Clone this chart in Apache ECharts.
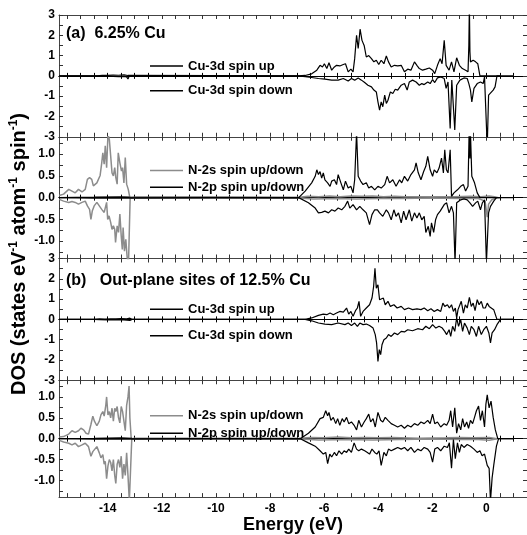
<!DOCTYPE html>
<html>
<head>
<meta charset="utf-8">
<script src="https://cdn.jsdelivr.net/npm/echarts@6/dist/echarts.min.js"></script>
<style>
html, body { margin: 0; padding: 0; background: #fff; }
#dos { width: 527px; height: 535px; }
</style>
</head>
<body>
<div id="dos"></div>
<script>
var chart = echarts.init(document.getElementById('dos'));
var FONT = "'Liberation Sans', Arial, sans-serif";

// energy axis (eV)
var energyLabels = [-14, -12, -10, -8, -6, -4, -2, 0];
var energyTicks = [-15.5, -15, -14.5, -14, -13.5, -13, -12.5, -12, -11.5, -11, -10.5, -10, -9.5, -9, -8.5, -8,
    -7.5, -7, -6.5, -6, -5.5, -5, -4.5, -4, -3.5, -3, -2.5, -2, -1.5, -1, -0.5, 0, 0.5, 1, 1.5];
// DOS axes
var cuLabels = [-3, -2, -1, 0, 1, 2, 3];
var cuTicks = [-3, -2.5, -2, -1.5, -1, -0.5, 0, 0.5, 1, 1.5, 2, 2.5, 3];
var nLabels = [-1.0, -0.5, 0.0, 0.5, 1.0];
var nTicks = [-1.25, -1, -0.75, -0.5, -0.25, 0, 0.25, 0.5, 0.75, 1, 1.25];

// (a) 6.25% Cu : Cu-3d
var cu3dUpA = [[-15.8,0],[-14.4,0],[-14.2,0.03],[-14.0,0.02],[-13.8,0.04],[-13.6,0.03],[-13.4,0.05],[-13.25,0.02],[-13.2,0],[-6.94,0],
    [-6.70,0.02],[-6.46,0.1],[-6.27,0.28],[-6.15,0.52],[-6.06,0.44],[-5.99,0.6],[-5.90,0.36],[-5.82,0.65],[-5.72,0.28],[-5.62,0.44],
    [-5.54,0.52],[-5.42,0.49],[-5.29,0.56],[-5.21,0.6],[-5.11,0.2],[-5.01,0.33],[-4.93,0.2],[-4.87,0.85],[-4.80,2.0],[-4.74,1.35],
    [-4.67,2.3],[-4.60,1.75],[-4.52,1.5],[-4.44,0.93],[-4.35,1.0],[-4.25,0.85],[-4.16,0.69],[-4.07,0.77],[-3.98,0.56],[-3.89,0.77],
    [-3.79,0.6],[-3.70,0.98],[-3.62,0.69],[-3.52,0.44],[-3.40,0.52],[-3.28,0.49],[-3.15,0.52],[-3.03,0.2],[-2.91,0.33],[-2.79,0.28],
    [-2.66,0.69],[-2.57,0.52],[-2.48,0.36],[-2.36,0.28],[-2.24,0.33],[-2.11,0.39],[-1.99,0.28],[-1.91,0.11],[-1.81,0.52],[-1.71,0.85],
    [-1.64,0.6],[-1.56,1.75],[-1.49,0.52],[-1.38,0.28],[-1.29,0.69],[-1.20,0.2],[-1.10,0.89],[-1.00,0.52],[-0.89,0.36],[-0.77,0.28],
    [-0.68,0.2],[-0.65,1.5],[-0.63,3.5],[-0.61,1.2],[-0.59,0.69],[-0.49,0.77],[-0.40,0.69],[-0.32,0.6],[-0.24,0],[0.5,0]];
var cu3dDownA = [[-15.8,0],[-14.4,0],[-14.2,-0.02],[-14.0,-0.03],[-13.8,-0.02],[-13.6,-0.04],[-13.4,-0.03],[-13.3,-0.05],[-13.25,-0.15],[-13.2,0],[-6.94,0],
    [-6.46,-0.08],[-6.21,-0.13],[-5.97,-0.16],[-5.72,-0.21],[-5.48,-0.21],[-5.29,-0.13],[-5.11,-0.25],[-4.99,-0.13],[-4.87,-0.21],
    [-4.74,-0.1],[-4.62,-0.21],[-4.50,-0.33],[-4.38,-0.46],[-4.25,-0.54],[-4.16,-0.70],[-4.07,-0.79],[-4.01,-1.28],[-3.95,-1.69],[-3.89,-1.28],
    [-3.83,-1.52],[-3.76,-0.95],[-3.70,-1.36],[-3.64,-1.2],[-3.55,-0.79],[-3.46,-0.87],[-3.37,-0.66],[-3.28,-0.70],[-3.15,-0.46],[-3.03,-0.38],
    [-2.93,-0.70],[-2.85,-0.3],[-2.73,-0.21],[-2.60,-0.3],[-2.48,-0.46],[-2.39,-0.38],[-2.30,-0.43],[-2.17,-0.3],[-2.08,-0.38],[-1.99,-0.18],
    [-1.91,-0.33],[-1.81,-0.1],[-1.69,-0.05],[-1.56,-0.13],[-1.49,-0.62],[-1.42,-0.3],[-1.34,-2.59],[-1.28,-0.21],[-1.22,-0.3],[-1.17,-2.67],
    [-1.10,-0.46],[-0.98,-0.21],[-0.83,-0.1],[-0.71,-0.13],[-0.65,-0.38],[-0.59,-0.70],[-0.54,-1.28],[-0.46,-0.62],[-0.34,-0.38],[-0.22,-0.3],
    [-0.12,-0.38],[-0.07,-0.05],[-0.02,0],[0.03,-3.5],[0.08,-0.95],[0.15,-0.87],[0.25,-0.70],[0.32,-0.54],[0.39,0],[1.0,0]];

// (a) 6.25% Cu : N-2s / N-2p
var n2sUpA = [[-15.79,0.05],[-15.63,0.08],[-15.44,0.19],[-15.32,0.15],[-15.20,0.11],[-15.08,0.19],[-14.95,0.13],[-14.83,0.19],[-14.75,0.42],
    [-14.67,0.46],[-14.59,0.42],[-14.53,0.27],[-14.40,0.34],[-14.28,0.51],[-14.22,0.8],[-14.18,1.03],[-14.13,0.77],[-14.09,1.19],[-14.04,0.69],
    [-13.99,1.45],[-13.94,1.34],[-13.89,0.96],[-13.84,0.57],[-13.79,0.5],[-13.74,0.69],[-13.70,0.46],[-13.65,0.31],[-13.61,1.03],[-13.55,0.8],
    [-13.49,0.61],[-13.45,0.69],[-13.40,0.34],[-13.35,0.92],[-13.30,0.31],[-13.24,0.19],[-13.18,0],[-13.0,0.01],[-9.0,0.01],[-6.9,0.01],
    [-6.6,0.03],[-6.2,0.02],[-5.8,0.04],[-5.4,0.02],[-5.0,0.04],[-4.6,0.03],[-4.2,0.04],[-3.8,0.02],[-3.4,0.03],[-3.0,0.02],[-2.0,0.02],
    [-1.2,0.02],[-0.6,0.03],[-0.2,0.02],[0.1,0.04],[0.3,0.02],[0.45,0]];
var n2sDownA = [[-15.79,-0.04],[-15.63,-0.08],[-15.44,-0.11],[-15.32,-0.09],[-15.20,-0.11],[-15.08,-0.15],[-14.95,-0.11],[-14.83,-0.08],
    [-14.75,-0.19],[-14.67,-0.27],[-14.62,-0.5],[-14.57,-0.31],[-14.50,-0.19],[-14.40,-0.11],[-14.31,-0.19],[-14.22,-0.27],[-14.13,-0.34],
    [-14.09,-0.38],[-14.04,-0.11],[-14.0,-0.5],[-13.95,-0.42],[-13.89,-0.57],[-13.84,-0.73],[-13.79,-0.65],[-13.74,-0.73],[-13.71,-1.03],
    [-13.65,-0.65],[-13.60,-0.8],[-13.55,-0.38],[-13.50,-0.88],[-13.46,-1.19],[-13.43,-0.69],[-13.38,-1.23],[-13.33,-0.96],[-13.28,-1.38],
    [-13.23,-1.5],[-13.18,-1.5],[-13.17,0],[-13.1,-0.01],[-6.9,-0.01],[-6.4,-0.03],[-5.6,-0.02],[-4.8,-0.03],[-4.0,-0.02],[-3.2,-0.02],
    [-2.0,-0.01],[-1.0,-0.02],[-0.3,-0.02],[-0.05,-0.08],[0.03,-0.45],[0.08,-0.15],[0.2,-0.05],[0.4,0]];
var n2pUpA = [[-15.8,0],[-14.5,0.01],[-13.5,0.02],[-13.2,0.01],[-6.94,0],
    [-6.70,0.15],[-6.46,0.34],[-6.33,0.49],[-6.27,0.64],[-6.21,0.53],[-6.15,0.6],[-6.09,0.45],[-6.03,0.57],[-5.97,0.41],[-5.87,0.34],
    [-5.78,0.26],[-5.72,0.38],[-5.62,0.41],[-5.54,0.3],[-5.48,0.53],[-5.38,0.34],[-5.29,0.18],[-5.21,0.38],[-5.11,0.22],[-5.01,0.26],
    [-4.93,0.11],[-4.87,0.41],[-4.80,1.5],[-4.74,0.49],[-4.65,0.38],[-4.56,0.3],[-4.44,0.34],[-4.35,0.22],[-4.25,0.26],[-4.13,0.18],
    [-4.01,0.26],[-3.89,0.22],[-3.76,0.3],[-3.67,0.49],[-3.58,0.34],[-3.46,0.41],[-3.34,0.26],[-3.21,0.41],[-3.13,0.34],[-3.03,0.49],
    [-2.91,0.38],[-2.79,0.53],[-2.66,0.64],[-2.60,0.8],[-2.52,0.57],[-2.42,0.41],[-2.32,0.6],[-2.24,0.72],[-2.17,0.95],[-2.08,0.64],
    [-1.99,0.49],[-1.93,0.64],[-1.83,0.57],[-1.75,0.68],[-1.66,0.91],[-1.59,0.57],[-1.54,1.1],[-1.48,0.64],[-1.42,0.57],[-1.34,1.1],
    [-1.29,0.03],[-1.20,0.11],[-1.07,0.18],[-0.95,0.26],[-0.85,0.3],[-0.77,0.15],[-0.68,0.26],[-0.64,1.5],[-0.61,0.9],[-0.59,1.5],
    [-0.54,0.49],[-0.44,0.34],[-0.34,0.11],[-0.24,0],[0.5,0]];
var n2pDownA = [[-15.8,0],[-14.5,-0.01],[-13.5,-0.01],[-6.94,0],
    [-6.58,-0.12],[-6.33,-0.24],[-6.21,-0.35],[-6.09,-0.34],[-5.97,-0.31],[-5.84,-0.35],[-5.72,-0.28],[-5.60,-0.31],[-5.48,-0.24],
    [-5.35,-0.28],[-5.23,-0.2],[-5.13,-0.08],[-5.05,-0.24],[-4.93,-0.16],[-4.80,-0.28],[-4.68,-0.2],[-4.56,-0.28],[-4.44,-0.35],
    [-4.32,-0.62],[-4.23,-0.39],[-4.13,-0.28],[-4.03,-0.28],[-3.95,-0.35],[-3.83,-0.43],[-3.70,-0.28],[-3.62,-0.35],[-3.52,-0.51],
    [-3.42,-0.28],[-3.34,-0.43],[-3.25,-0.35],[-3.15,-0.58],[-3.06,-0.31],[-2.97,-0.51],[-2.85,-0.28],[-2.76,-0.54],[-2.66,-0.35],
    [-2.57,-0.47],[-2.48,-0.35],[-2.39,-0.51],[-2.30,-0.43],[-2.24,-0.8],[-2.15,-0.66],[-2.08,-0.89],[-2.03,-0.58],[-1.95,-0.8],
    [-1.88,-0.51],[-1.81,-0.39],[-1.71,-0.31],[-1.64,-0.35],[-1.56,-0.16],[-1.47,-0.12],[-1.38,-0.35],[-1.29,-0.2],[-1.22,-0.35],
    [-1.16,-1.5],[-1.14,-1.5],[-1.10,-0.12],[-0.95,-0.05],[-0.83,-0.03],[-0.71,-0.05],[-0.61,-0.12],[-0.51,-0.2],[-0.40,-0.12],
    [-0.32,-0.08],[-0.22,-0.28],[-0.15,-0.12],[-0.07,-0.05],[0.00,-1.5],[0.03,-1.5],[0.08,-0.35],[0.15,-0.2],[0.27,-0.08],[0.37,0],[1.0,0]];

// (b) out-plane sites of 12.5% Cu : Cu-3d
var cu3dUpB = [[-15.8,0],[-14.5,0],[-14.3,0.02],[-14.1,0.01],[-13.9,0.03],[-13.7,0.02],[-13.5,0.04],[-13.3,0.03],[-13.18,0.06],[-13.1,0],[-6.70,0],
    [-6.46,0.07],[-6.21,0.2],[-6.03,0.26],[-5.90,0.23],[-5.78,0.31],[-5.66,0.23],[-5.54,0.31],[-5.42,0.39],[-5.29,0.36],[-5.17,0.56],
    [-5.09,0.26],[-5.01,0.39],[-4.93,0.15],[-4.84,0.43],[-4.77,0.56],[-4.71,0.89],[-4.65,0.15],[-4.56,0.39],[-4.44,0.56],[-4.32,0.72],
    [-4.23,1.05],[-4.17,1.62],[-4.12,2.52],[-4.07,1.54],[-4.01,1.7],[-3.95,0.97],[-3.89,0.89],[-3.81,1.05],[-3.74,0.72],[-3.64,0.89],
    [-3.55,0.64],[-3.42,0.72],[-3.30,0.56],[-3.15,0.64],[-3.03,0.48],[-2.88,0.56],[-2.73,0.48],[-2.57,0.52],[-2.42,0.48],[-2.30,0.56],
    [-2.17,0.43],[-2.05,0.52],[-1.93,0.39],[-1.81,0.48],[-1.69,0.39],[-1.61,0.8],[-1.54,0.64],[-1.44,0.72],[-1.37,0.56],[-1.29,0.72],
    [-1.22,0.39],[-1.15,0.56],[-1.10,0.07],[-1.05,0.48],[-1.00,0.39],[-0.93,0.89],[-0.85,0.31],[-0.78,0.72],[-0.71,0.56],[-0.63,1.08],
    [-0.56,0.64],[-0.49,0.8],[-0.42,0.43],[-0.34,0.97],[-0.27,0.72],[-0.19,0.89],[-0.12,0.56],[-0.04,0.56],[0.03,0.8],[0.10,0.64],
    [0.17,0.72],[0.27,0.48],[0.39,0],[1.0,0]];
var cu3dDownB = [[-15.8,0],[-14.5,0],[-14.3,-0.01],[-14.0,-0.02],[-13.7,-0.01],[-13.4,-0.03],[-13.18,-0.05],[-13.1,0],[-6.70,0],
    [-6.46,-0.07],[-6.21,-0.18],[-5.97,-0.23],[-5.72,-0.26],[-5.48,-0.18],[-5.23,-0.26],[-5.11,-0.18],[-4.99,-0.3],[-4.87,-0.18],
    [-4.77,-0.34],[-4.68,-0.18],[-4.56,-0.26],[-4.44,-0.23],[-4.32,-0.3],[-4.19,-0.43],[-4.11,-0.75],[-4.06,-1.16],[-4.01,-2.07],
    [-3.96,-1.49],[-3.91,-1.74],[-3.86,-1.25],[-3.79,-1.0],[-3.70,-0.92],[-3.62,-0.75],[-3.52,-0.84],[-3.40,-0.67],[-3.28,-0.75],
    [-3.15,-0.59],[-3.03,-0.62],[-2.91,-0.51],[-2.73,-0.56],[-2.54,-0.46],[-2.36,-0.51],[-2.24,-0.34],[-2.11,-0.46],[-1.99,-0.26],
    [-1.87,-0.43],[-1.75,-0.34],[-1.63,-0.43],[-1.54,-0.59],[-1.47,-0.75],[-1.38,-0.51],[-1.32,-0.84],[-1.25,-0.34],[-1.17,-0.59],
    [-1.10,0.07],[-1.03,-0.34],[-0.95,-0.02],[-0.88,-0.59],[-0.81,-0.18],[-0.71,-0.43],[-0.63,-0.75],[-0.56,-0.34],[-0.46,-0.51],
    [-0.37,-0.84],[-0.29,-0.34],[-0.19,-0.75],[-0.10,-0.51],[0.00,-0.34],[0.09,-0.67],[0.15,-1.16],[0.21,-0.67],[0.30,-0.51],
    [0.39,-0.26],[0.52,0],[1.0,0]];

// (b) out-plane sites of 12.5% Cu : N-2s / N-2p
var n2sUpB = [[-15.79,0.04],[-15.63,0.05],[-15.44,0.11],[-15.32,0.19],[-15.20,0.15],[-15.08,0.19],[-14.99,0.25],[-14.89,0.21],[-14.80,0.13],
    [-14.71,0.11],[-14.62,0.34],[-14.55,0.54],[-14.49,0.42],[-14.40,0.31],[-14.31,0.42],[-14.25,0.57],[-14.18,0.65],[-14.13,0.54],
    [-14.07,0.8],[-14.04,1.0],[-13.99,0.57],[-13.94,0.65],[-13.89,0.5],[-13.84,0.73],[-13.79,0.42],[-13.74,0.73],[-13.70,0.65],
    [-13.65,0.77],[-13.60,0.5],[-13.55,0.38],[-13.50,0.77],[-13.45,0.65],[-13.40,0.42],[-13.35,0.19],[-13.30,0.8],[-13.25,1.0],
    [-13.21,1.26],[-13.18,0.5],[-13.13,0],[-13.0,0.01],[-9.0,0.01],[-6.9,0.01],[-6.5,0.03],[-6.0,0.02],[-5.5,0.04],[-5.0,0.02],
    [-4.5,0.03],[-4.0,0.02],[-3.5,0.03],[-2.5,0.01],[-1.5,0.02],[-1.0,0.03],[-0.5,0.02],[0.1,0.03],[0.4,0]];
var n2sDownB = [[-15.79,-0.04],[-15.63,-0.08],[-15.44,-0.11],[-15.32,-0.15],[-15.20,-0.11],[-15.08,-0.19],[-14.95,-0.15],[-14.83,-0.11],
    [-14.71,-0.19],[-14.62,-0.42],[-14.55,-0.31],[-14.49,-0.27],[-14.40,-0.19],[-14.31,-0.34],[-14.25,-0.46],[-14.18,-0.38],[-14.13,-0.61],
    [-14.09,-0.54],[-14.04,-0.96],[-13.99,-0.65],[-13.94,-0.5],[-13.89,-0.57],[-13.84,-0.77],[-13.79,-0.5],[-13.74,-0.88],[-13.70,-1.07],
    [-13.65,-0.61],[-13.60,-0.5],[-13.55,-0.69],[-13.50,-0.42],[-13.45,-0.96],[-13.40,-0.61],[-13.35,-0.88],[-13.30,-0.34],[-13.25,-0.88],
    [-13.20,-1.5],[-13.16,-1.5],[-13.11,0],[-13.0,-0.01],[-6.9,-0.01],[-6.2,-0.03],[-5.2,-0.02],[-4.2,-0.03],[-3.2,-0.02],[-2.0,-0.01],
    [-1.0,-0.02],[-0.3,-0.02],[0.1,-0.04],[0.4,0]];
var n2pUpB = [[-15.8,0],[-14.5,0.01],[-13.5,0.02],[-13.1,0.01],[-6.88,0],
    [-6.58,0.13],[-6.33,0.28],[-6.15,0.48],[-6.03,0.51],[-5.94,0.67],[-5.87,0.55],[-5.82,0.63],[-5.75,0.44],[-5.66,0.51],[-5.57,0.36],
    [-5.50,0.48],[-5.42,0.32],[-5.33,0.48],[-5.26,0.4],[-5.17,0.51],[-5.09,0.36],[-4.99,0.4],[-4.89,0.32],[-4.80,0.21],[-4.72,0.44],
    [-4.62,0.28],[-4.52,0.4],[-4.44,0.48],[-4.35,0.59],[-4.28,0.4],[-4.19,0.48],[-4.11,0.28],[-4.01,0.63],[-3.91,0.44],[-3.83,0.4],
    [-3.74,0.51],[-3.64,0.44],[-3.52,0.36],[-3.40,0.32],[-3.28,0.28],[-3.15,0.32],[-3.03,0.25],[-2.91,0.32],[-2.79,0.28],[-2.66,0.36],
    [-2.54,0.32],[-2.42,0.4],[-2.30,0.36],[-2.17,0.44],[-2.08,0.36],[-1.99,0.59],[-1.91,0.36],[-1.81,0.4],[-1.69,0.28],[-1.56,0.36],
    [-1.47,0.32],[-1.38,0.44],[-1.32,0.67],[-1.25,0.28],[-1.17,0.74],[-1.10,0.13],[-1.03,0.36],[-0.95,0.21],[-0.88,0.48],[-0.81,0.28],
    [-0.73,0.4],[-0.66,0.25],[-0.59,0.44],[-0.51,0.36],[-0.44,0.51],[-0.37,0.67],[-0.29,0.78],[-0.22,0.44],[-0.15,0.67],[-0.07,0.28],
    [-0.02,0.82],[0.03,1.05],[0.10,0.74],[0.17,0.9],[0.25,0.51],[0.33,0.21],[0.42,0],[1.0,0]];
var n2pDownB = [[-15.8,0],[-14.5,-0.01],[-13.5,-0.01],[-6.88,0],
    [-6.58,-0.1],[-6.33,-0.18],[-6.15,-0.29],[-6.03,-0.37],[-5.94,-0.33],[-5.87,-0.6],[-5.79,-0.37],[-5.72,-0.44],[-5.62,-0.33],
    [-5.54,-0.41],[-5.45,-0.29],[-5.35,-0.37],[-5.26,-0.29],[-5.17,-0.33],[-5.09,-0.25],[-4.99,-0.33],[-4.89,-0.1],[-4.80,-0.25],
    [-4.72,-0.29],[-4.62,-0.25],[-4.50,-0.29],[-4.40,-0.33],[-4.32,-0.37],[-4.23,-0.25],[-4.13,-0.33],[-4.05,-0.37],[-3.97,-0.29],
    [-3.89,-0.64],[-3.79,-0.33],[-3.70,-0.41],[-3.62,-0.25],[-3.52,-0.29],[-3.40,-0.25],[-3.28,-0.21],[-3.15,-0.25],[-3.03,-0.21],
    [-2.91,-0.29],[-2.79,-0.21],[-2.66,-0.33],[-2.54,-0.25],[-2.42,-0.29],[-2.30,-0.21],[-2.17,-0.25],[-2.08,-0.33],[-1.99,-0.56],
    [-1.91,-0.25],[-1.81,-0.21],[-1.69,-0.29],[-1.56,-0.18],[-1.44,-0.21],[-1.37,-0.1],[-1.29,-0.71],[-1.22,-0.02],[-1.15,-0.48],
    [-1.07,-0.1],[-1.00,-0.33],[-0.93,-0.14],[-0.83,-0.21],[-0.71,-0.14],[-0.59,-0.18],[-0.46,-0.25],[-0.34,-0.33],[-0.24,-0.29],
    [-0.16,-0.41],[-0.07,-0.37],[0.03,-0.64],[0.10,-0.71],[0.15,-1.5],[0.21,-0.94],[0.27,-0.64],[0.37,-0.18],[0.45,0],[1.0,0]];

var GRAY = '#8c8c8c';
var panelTop = [15, 136.75, 258.5, 380.25];
var panelH = 121.75;
var panelKind = ['cu', 'n', 'cu', 'n'];

var grids = [], xAxes = [], yAxes = [], series = [];

function boldText(size) {
    return { fontFamily: FONT, fontWeight: 'bold', fontSize: size, color: '#000' };
}

for (var g = 0; g < 4; g++) {
    grids.push({ left: 59, right: -3.6, top: panelTop[g], height: panelH });
    var last = g === 3;
    // frame: bottom and top edges, ticks pointing in
    xAxes.push({
        type: 'value', gridIndex: g, position: 'bottom', min: -15.8, max: 1.5,
        splitLine: { show: false },
        axisLine: { show: true, onZero: false, lineStyle: { color: '#444', width: 1 } },
        axisTick: { show: true, inside: true, length: 4, customValues: energyTicks, lineStyle: { color: '#333' } },
        axisLabel: { show: last, customValues: energyLabels, margin: 6, textStyle: boldText(12) },
        name: last ? 'Energy (eV)' : '', nameLocation: 'middle', nameGap: 13,
        nameTextStyle: boldText(18)
    });
    xAxes.push({
        type: 'value', gridIndex: g, position: 'top', min: -15.8, max: 1.5,
        splitLine: { show: false },
        axisLine: { show: true, onZero: false, lineStyle: { color: '#444', width: 1 } },
        axisTick: { show: true, inside: true, length: 4, customValues: energyTicks, lineStyle: { color: '#333' } },
        axisLabel: { show: false }
    });
    // zero line with crossing ticks
    [true, false].forEach(function (ins) {
        xAxes.push({
            type: 'value', gridIndex: g, position: 'bottom', min: -15.8, max: 1.5,
            splitLine: { show: false },
            axisLine: { show: true, onZero: true, onZeroAxisIndex: 2 * g, lineStyle: { color: '#000', width: 1 } },
            axisTick: { show: true, inside: ins, length: 3, customValues: energyTicks, lineStyle: { color: '#000' } },
            axisLabel: { show: false }
        });
    });

    var isCu = panelKind[g] === 'cu';
    var yMin = isCu ? -3 : -1.4, yMax = isCu ? 3 : 1.4;
    yAxes.push({
        type: 'value', gridIndex: g, position: 'left', min: yMin, max: yMax,
        splitLine: { show: false },
        axisLine: { show: true, onZero: false, lineStyle: { color: '#444' } },
        axisTick: { show: true, inside: true, length: 4, customValues: isCu ? cuTicks : nTicks, lineStyle: { color: '#333' } },
        axisLabel: {
            customValues: isCu ? cuLabels : nLabels, margin: 4, textStyle: boldText(12),
            formatter: isCu ? function (v) { return String(v); } : function (v) { return v.toFixed(1); }
        }
    });
    yAxes.push({
        type: 'value', gridIndex: g, position: 'right', min: yMin, max: yMax,
        splitLine: { show: false },
        axisLine: { show: true, onZero: false, lineStyle: { color: '#444' } },
        axisTick: { show: true, inside: true, length: 4, customValues: isCu ? cuTicks : nTicks, lineStyle: { color: '#333' } },
        axisLabel: { show: false }
    });
}

function curve(name, data, g, color, width) {
    return {
        type: 'line', name: name, data: data, xAxisIndex: 4 * g, yAxisIndex: 2 * g,
        symbol: 'none', showSymbol: false, silent: true,
        lineStyle: { color: color, width: width }, itemStyle: { color: color }
    };
}

series.push(curve('Cu-3d spin up', cu3dUpA, 0, '#000', 1.2));
series.push(curve('Cu-3d spin down', cu3dDownA, 0, '#000', 1.2));
series.push(curve('N-2s spin up/down', n2sUpA, 1, GRAY, 1.5));
series.push(curve('N-2s spin up/down', n2sDownA, 1, GRAY, 1.5));
series.push(curve('N-2p spin up/down', n2pUpA, 1, '#000', 1.2));
series.push(curve('N-2p spin up/down', n2pDownA, 1, '#000', 1.2));
series.push(curve('Cu-3d spin up', cu3dUpB, 2, '#000', 1.2));
series.push(curve('Cu-3d spin down', cu3dDownB, 2, '#000', 1.2));
series.push(curve('N-2s spin up/down', n2sUpB, 3, GRAY, 1.5));
series.push(curve('N-2s spin up/down', n2sDownB, 3, GRAY, 1.5));
series.push(curve('N-2p spin up/down', n2pUpB, 3, '#000', 1.2));
series.push(curve('N-2p spin up/down', n2pDownB, 3, '#000', 1.2));

// legends: a plain short line as the key
function legendBox(names, top, gap) {
    return {
        data: names, left: 150, top: top, orient: 'vertical', padding: 0,
        icon: 'rect', itemGap: gap, itemWidth: 33, itemHeight: 1.5, selectedMode: false,
        textStyle: boldText(13)
    };
}
var cuNames = ['Cu-3d spin up', 'Cu-3d spin down'];
var nNames = ['N-2s spin up/down', 'N-2p spin up/down'];

var option = {
    animation: false,
    backgroundColor: '#fff',
    grid: grids,
    xAxis: xAxes,
    yAxis: yAxes,
    series: series,
    legend: [
        legendBox(cuNames, 59.5, 11.7),
        legendBox(nNames, 164, 3.8),
        legendBox(cuNames, 302.8, 13.4),
        legendBox(nNames, 409.2, 4.6)
    ],
    graphic: [
        { type: 'text', left: 66, top: 26,
          style: { text: '(a)  6.25% Cu', font: "bold 16px 'Liberation Sans', Arial, sans-serif", fill: '#000' } },
        { type: 'text', left: 66, top: 273,
          style: { text: '(b)   Out-plane sites of 12.5% Cu', font: "bold 16px 'Liberation Sans', Arial, sans-serif", fill: '#000' } },
        { type: 'text', x: 19, y: 254, rotation: Math.PI / 2,
          style: {
              text: '{a|DOS (states eV}{s|-1}{a| atom}{s|-1}{a| spin}{s|-1}{a|)}',
              align: 'center', verticalAlign: 'middle',
              rich: {
                  a: { font: "bold 20px 'Liberation Sans', Arial, sans-serif", fill: '#000', lineHeight: 22 },
                  s: { font: "bold 12px 'Liberation Sans', Arial, sans-serif", fill: '#000', verticalAlign: 'top', lineHeight: 22 }
              }
          } }
    ]
};

chart.setOption(option);
</script>
</body>
</html>
